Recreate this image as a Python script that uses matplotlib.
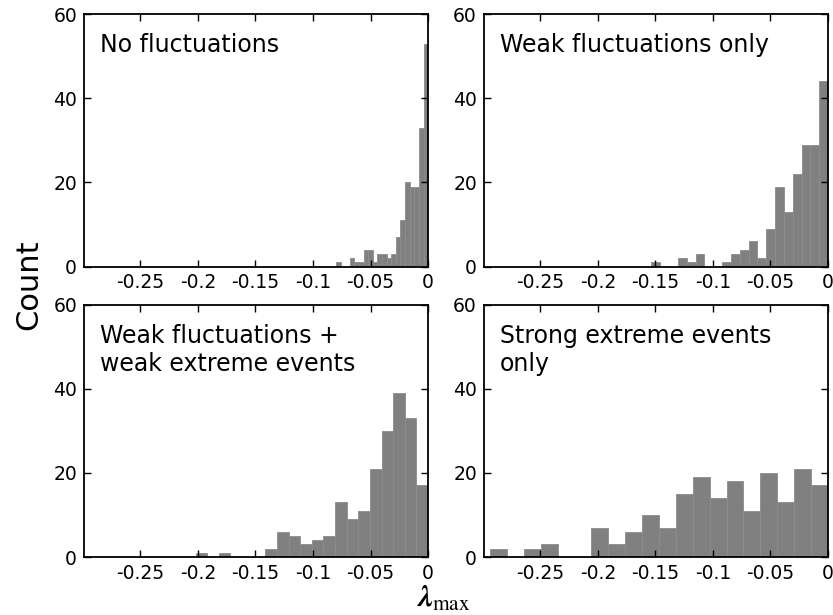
import numpy as np
import matplotlib
matplotlib.use("Agg")
import matplotlib.pyplot as plt

plt.rcParams['font.family'] = ['DejaVu Sans']
plt.rcParams['mathtext.fontset'] = 'stix'

# panel titles
titles = ["No fluctuations",
          "Weak fluctuations only",
          "Weak fluctuations +\nweak extreme events",
          "Strong extreme events\nonly"]

# each panel: 20 equal bins from its lower edge up to 0
bin_lo = [-0.080, -0.1534, -0.202, -0.2937]

counts_none = [1, 0, 0, 2, 1, 1, 4, 4, 1, 3, 3, 2, 3, 7, 11, 20, 19, 19, 33, 53]
counts_weak = [1, 0, 0, 2, 1, 3, 0, 0, 1, 3, 4, 6, 2, 9, 19, 13, 22, 29, 29, 44]
counts_weak_ext = [1, 0, 1, 0, 0, 0, 2, 6, 5, 3, 4, 5, 13, 9, 11, 21, 30, 39, 33, 17]
counts_strong = [2, 0, 2, 3, 0, 0, 7, 3, 6, 10, 7, 15, 19, 14, 18, 11, 20, 13, 21, 17]
all_counts = [counts_none, counts_weak, counts_weak_ext, counts_strong]

xticks = [-0.25, -0.2, -0.15, -0.1, -0.05, 0]
xtick_labels = ["-0.25", "-0.2", "-0.15", "-0.1", "-0.05", "0"]
yticks = [0, 20, 40, 60]

fig, axes = plt.subplots(2, 2, figsize=(8.33, 6.15), dpi=100)
fig.subplots_adjust(left=0.1008, right=0.994, top=0.977, bottom=0.0943,
                    wspace=0.162, hspace=0.151)

for ax, counts, lo, title in zip(axes.flat, all_counts, bin_lo, titles):
    edges = np.linspace(lo, 0, len(counts) + 1)
    mids = (edges[:-1] + edges[1:]) / 2
    ax.hist(mids, bins=edges, weights=counts, color='#808080',
            edgecolor='#8c8c8c', linewidth=0.6)
    ax.set_xlim(-0.299, 0)
    ax.set_ylim(0, 60)
    ax.set_xticks(xticks)
    ax.set_xticklabels(xtick_labels)
    ax.set_yticks(yticks)
    ax.tick_params(direction='in', top=True, right=True, length=5,
                   width=1, labelsize=13.5, pad=5)
    for s in ax.spines.values():
        s.set_linewidth(1.3)
    ax.text(0.047, 0.925, title, transform=ax.transAxes, ha='left', va='top',
            fontsize=17, linespacing=1.25)

fig.text(0.035, 0.537, "Count", rotation=90, ha='center', va='center', fontsize=22)
fig.text(0.532, 0.004, r'$\mathbfit{\lambda}_{\mathrm{max}}$', ha='center', va='bottom',
         fontsize=22)

fig.savefig("out.png", dpi=100)
